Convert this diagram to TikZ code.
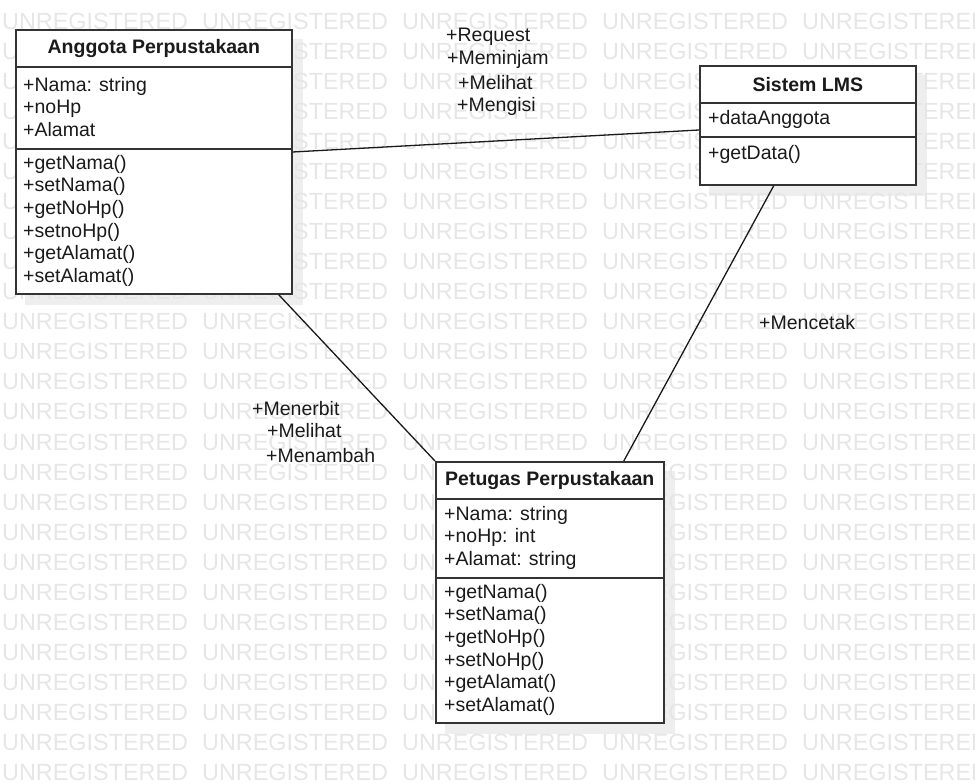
\documentclass[tikz,border=0pt]{standalone}
\usepackage{fontspec}
\setmainfont{Liberation Sans}
\usetikzlibrary{backgrounds}
\definecolor{LineColor} {RGB}{51,51,51}
\definecolor{ShadeColor}{RGB}{238,238,238}
\definecolor{MarkColor} {RGB}{230,230,230}
\definecolor{TextColor} {RGB}{26,26,26}
\newcommand{\umlsize}{\fontsize{19.5}{22.6}\selectfont}

\begin{document}
\begin{tikzpicture}[x=1pt,y=-1pt,
  part/.style={draw=LineColor,line width=1.6pt,fill=white,anchor=north west,inner sep=0pt},
  title/.style={part,minimum height=37,font=\umlsize\bfseries,text=TextColor},
  members/.style={anchor=north west,inner sep=0pt,align=left,font=\umlsize,text=TextColor},
  role/.style={anchor=base west,inner sep=0pt,font=\umlsize,text=TextColor},
  assoc/.style={draw=black!90,line width=1.3pt},
  wmark/.style={anchor=base west,inner sep=0pt,font=\fontsize{23.4}{26}\selectfont,text=MarkColor}]
\useasboundingbox (0,0) rectangle (975,783);
% Anggota Perpustakaan
\node[title,minimum width=276] (ang) at (15,29) {Anggota Perpustakaan};
\node[part,minimum width=276,minimum height=82] (angA) at (15,66) {};
\node[part,minimum width=276,minimum height=145] (angM) at (15,148) {};
\node[members] (angAtxt) at (23,77) {+Nama: string\\+noHp\\+Alamat};
\node[members] (angMtxt) at (23,155) {+getNama()\\+setNama()\\+getNoHp()\\+setnoHp()\\+getAlamat()\\+setAlamat()};
% Sistem LMS
\node[title,minimum width=216] (lms) at (699,65) {Sistem LMS};
\node[part,minimum width=216,minimum height=34] (lmsA) at (699,102) {};
\node[part,minimum width=216,minimum height=48] (lmsM) at (699,136) {};
\node[members] (lmsAtxt) at (708,110) {+dataAnggota};
\node[members] (lmsMtxt) at (708,145) {+getData()};
% Petugas Perpustakaan
\node[title,minimum width=228] (pet) at (435,461) {Petugas Perpustakaan};
\node[part,minimum width=228,minimum height=79] (petA) at (435,498) {};
\node[part,minimum width=228,minimum height=145] (petM) at (435,577) {};
\node[members] (petAtxt) at (444,506) {+Nama: string\\+noHp: int\\+Alamat: string};
\node[members] (petMtxt) at (444,584) {+getNama()\\+setNama()\\+getNoHp()\\+setNoHp()\\+getAlamat()\\+setAlamat()};
% associations
\draw[assoc] ([shift={(0,4)}]angM.north east) -- ([shift={(0,-6)}]lmsM.north west);
\draw[assoc] ([shift={(-14,0)}]angM.south east) -- (pet.north west);
\draw[assoc] ([shift={(-34,0)}]lmsM.south) -- ([shift={(74,0)}]pet.north);
\node[role] (req) at (446,42) {+Request};
\node[role] (pinjam) at (447,65) {+Meminjam};
\node[role] (lihatA) at (458,90) {+Melihat};
\node[role] (isi) at (457,112) {+Mengisi};
\node[role] (terbit) at (252,416) {+Menerbit};
\node[role] (lihatP) at (267,438) {+Melihat};
\node[role] (tambah) at (266,463) {+Menambah};
\node[role] (cetak) at (759,330) {+Mencetak};
% shadows and watermark
\begin{scope}[on background layer]
  \clip (0,0) rectangle (975,783);
  \foreach \hd/\ft in {ang/angM,lms/lmsM,pet/petM}
    \fill[ShadeColor] ([shift={(10,10)}]\hd.north west) rectangle ([shift={(10,10)}]\ft.south east);
  \foreach \r in {0,...,25}
    \foreach \c in {0,...,4}
      \node[wmark] (wm-\r-\c) at (2+200*\c,30+30*\r) {UNREGISTERED};
\end{scope}
\end{tikzpicture}
\end{document}
